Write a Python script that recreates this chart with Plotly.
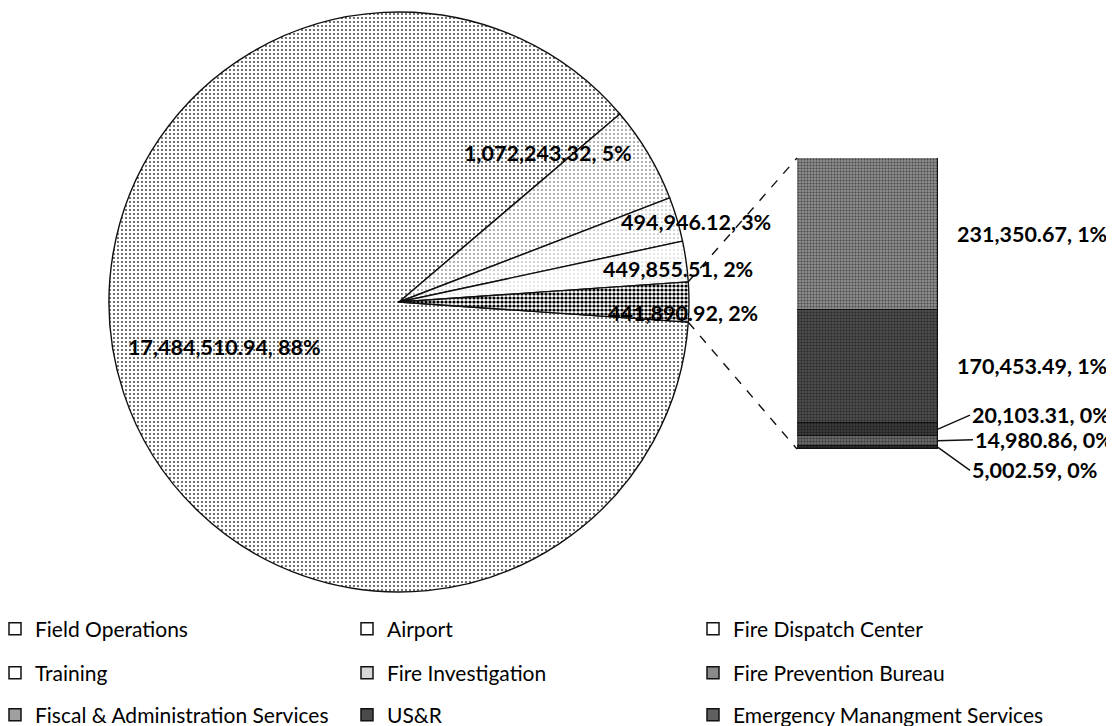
import math
import plotly.graph_objects as go

W, H = 1114, 726          # browser window
OFF = 8                   # default page margin around the figure
WF, HF = W - OFF, H - OFF # figure size

# ---------------- data ----------------
pie_labels = ["Field Operations", "Airport", "Fire Dispatch Center", "Training", "Other"]
pie_values = [17484510.94, 1072243.32, 494946.12, 449855.51, 441890.92]
pie_pct = ["88%", "5%", "3%", "2%", "2%"]

bar_labels = ["Fire Investigation", "Fire Prevention Bureau",
              "Fiscal & Administration Services", "US&R",
              "Emergency Manangment Services"]
bar_values = [231350.67, 170453.49, 20103.31, 14980.86, 5002.59]
bar_pct = ["1%", "1%", "0%", "0%", "0%"]

legend_rows = [
    ["Field Operations", "Airport", "Fire Dispatch Center"],
    ["Training", "Fire Investigation", "Fire Prevention Bureau"],
    ["Fiscal & Administration Services", "US&R", "Emergency Manangment Services"],
]

# ---------------- styles ----------------
FONT = "Lato"
pie_bg = ["#ffffff", "#ffffff", "#ffffff", "#ffffff", "#3a3a3a"]
pie_fg = ["#3a3a3a", "#3a3a3a", "#3a3a3a", "#3a3a3a", "#000000"]
pie_sol = [0.18, 0.10, 0.06, 0.04, 0.5]

bar_bg = {"Fire Investigation": "#8e8e8e", "Fire Prevention Bureau": "#4e4e4e",
          "Fiscal & Administration Services": "#3a3a3a", "US&R": "#6a6a6a",
          "Emergency Manangment Services": "#2e2e2e"}
legend_fill = {"Field Operations": "#ffffff", "Airport": "#ffffff",
               "Fire Dispatch Center": "#ffffff", "Training": "#ffffff",
               "Fire Investigation": "#d8d8d8", "Fire Prevention Bureau": "#8a8a8a",
               "Fiscal & Administration Services": "#a0a0a0", "US&R": "#4a4a4a",
               "Emergency Manangment Services": "#606060"}

# geometry (page pixels)
cx, cy, R = 399, 302, 290
bx0, bx1, by0, by1 = 797, 938, 158, 449
leg_text_x = [35, 387, 733]
leg_row_y = [629, 673, 715]
LEG_TEXT_OFF = 40
LABEL_SIZE = 21.5

def px(x):
    return (x - OFF) / WF

def py(y):
    return 1 - (y - OFF) / HF

total = sum(pie_values)
other_frac = pie_values[-1] / total
start_rot = 90 + 180 * other_frac  # first slice starts just below 3 o'clock

fig = go.Figure()

fig.add_trace(go.Pie(
    labels=pie_labels, values=pie_values, sort=False, direction="clockwise",
    rotation=start_rot, textinfo="none", hoverinfo="skip", showlegend=False,
    domain=dict(x=[px(cx - R), px(cx + R)], y=[py(cy + R), py(cy - R)]),
    marker=dict(colors=pie_bg, line=dict(color="#111111", width=1.4),
                pattern=dict(shape=["."] * 5, fgcolor=pie_fg, size=4,
                             solidity=pie_sol)),
))

# stacked bar (bottom segment first)
for name, val in reversed(list(zip(bar_labels, bar_values))):
    fig.add_trace(go.Bar(
        x=[0], y=[val], name=name, showlegend=False, hoverinfo="skip",
        marker=dict(color=bar_bg[name], line=dict(color="#111111", width=1.4),
                    pattern=dict(shape=".", fgcolor="#000000", size=3, solidity=0.35)),
        width=1,
    ))

# legend entries: one legend per entry, laid out as a 3x3 grid
legend_layout = {}
k = 0
for r, row in enumerate(legend_rows):
    for c, name in enumerate(row):
        k += 1
        lg = "legend" if k == 1 else f"legend{k}"
        fig.add_trace(go.Scatter(
            x=[None], y=[None], mode="markers", name=name, legend=lg,
            marker=dict(symbol="square", size=12, color=legend_fill[name],
                        line=dict(color="#111111", width=1.5)),
        ))
        legend_layout[lg] = dict(
            x=px(leg_text_x[c] - LEG_TEXT_OFF), y=py(leg_row_y[r]),
            xanchor="left", yanchor="middle", bgcolor="rgba(0,0,0,0)",
            font=dict(family=FONT, size=21, color="#000"), itemclick=False,
            itemdoubleclick=False, borderwidth=0,
        )

# pie data labels (polar position relative to pie centre)
label_dist = [0.623, 0.727, 1.06, 0.97, 0.98]
label_ang = [194.4, 45.0, 15.0, 6.8, -2.2]
annotations = []
for v, p, d, a in zip(pie_values, pie_pct, label_dist, label_ang):
    ar = math.radians(a)
    annotations.append(dict(
        x=px(cx + d * R * math.cos(ar)), y=py(cy - d * R * math.sin(ar)),
        xref="paper", yref="paper", showarrow=False, xanchor="center", yanchor="middle",
        text=f"{v:,.2f}, {p}",
        font=dict(family=FONT, size=LABEL_SIZE, color="#000", weight="bold"),
    ))

# bar data labels
cum = 0
mids = {}
for name, val in reversed(list(zip(bar_labels, bar_values))):
    mids[name] = cum + val / 2
    cum += val
# (x offset px, y offset px (down positive), leader line)
bar_lab_shift = {"Fire Investigation": (17, 0, False), "Fire Prevention Bureau": (17, 0, False),
                 "Fiscal & Administration Services": (32, -14, True), "US&R": (35, -1, True),
                 "Emergency Manangment Services": (32, 23, True)}
for name, val, p in zip(bar_labels, bar_values, bar_pct):
    dx, dy, arrow = bar_lab_shift[name]
    common = dict(x=0.5, y=mids[name], xref="x", yref="y", text=f"{val:,.2f}, {p}",
                  font=dict(family=FONT, size=LABEL_SIZE, color="#000", weight="bold"),
                  xanchor="left", yanchor="middle")
    if arrow:
        common.update(showarrow=True, ax=dx, ay=dy, arrowhead=0, arrowwidth=1.4,
                      arrowcolor="#111", axref="pixel", ayref="pixel", standoff=0)
    else:
        common.update(showarrow=False, xshift=dx, yshift=-dy)
    annotations.append(common)

# dashed connectors between the "other" slice and the bar
a = math.pi * other_frac
shapes = [
    dict(type="line", xref="paper", yref="paper", x0=px(cx + R * math.cos(a)), y0=py(cy - R * math.sin(a)),
         x1=px(bx0), y1=py(by0), line=dict(color="#111", width=1.4, dash="dash")),
    dict(type="line", xref="paper", yref="paper", x0=px(cx + R * math.cos(a)), y0=py(cy + R * math.sin(a)),
         x1=px(bx0), y1=py(by1), line=dict(color="#111", width=1.4, dash="dash")),
]

fig.update_layout(
    width=WF, height=HF, margin=dict(l=0, r=0, t=0, b=0, autoexpand=False),
    paper_bgcolor="#ffffff", plot_bgcolor="rgba(0,0,0,0)",
    barmode="stack", bargap=0,
    xaxis=dict(domain=[px(bx0), px(bx1)], range=[-0.5, 0.5], visible=False, fixedrange=True),
    yaxis=dict(domain=[py(by1), py(by0)], range=[0, cum], visible=False, fixedrange=True),
    annotations=annotations, shapes=shapes,
    **legend_layout,
)

fig.write_html("out.html")
